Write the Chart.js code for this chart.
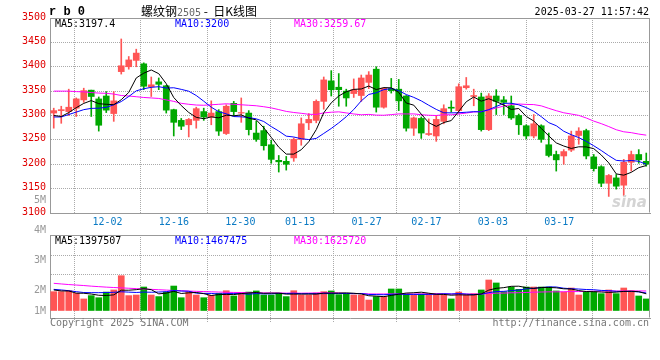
<!DOCTYPE html>
<html>
<head>
<meta charset="utf-8">
<script src="https://cdn.jsdelivr.net/npm/chart.js@4.4.1/dist/chart.umd.min.js"></script>
<style>
  body { margin: 0; background: #fff; }
  #wrap { position: relative; width: 660px; height: 360px; overflow: hidden; font-family: 'DejaVu Sans Mono', monospace; font-size: 10px; }
  canvas { position: absolute; left: 0; top: 0; }
  .t { position: absolute; white-space: pre; line-height: 12px; }
</style>
</head>
<body>
<div id="wrap">
  <canvas id="kChart" width="660" height="360"></canvas>
  <canvas id="volChart" width="660" height="360"></canvas>
  <div class="t" style="left:49px;top:5px;font:bold 12px 'Liberation Mono',monospace;">r b 0</div>
  <div class="t" style="left:141px;top:3px;font-size:12px;line-height:16px;font-family:'Noto Sans CJK SC';">螺纹钢<span style="font:10px 'DejaVu Sans Mono';color:#666;">2505</span> -  日K线图</div>
  <div class="t" style="right:11px;top:6px;">2025-03-27 11:57:42</div>
  <div class="t" id="ma5Txt" style="left:55px;top:18px;color:#000;"></div>
  <div class="t" id="ma10Txt" style="left:175px;top:18px;color:#0000ff;"></div>
  <div class="t" id="ma30Txt" style="left:294px;top:18px;color:#ff00ff;"></div>
  <div class="t" id="vma5Txt" style="left:55px;top:235px;color:#000;"></div>
  <div class="t" id="vma10Txt" style="left:175px;top:235px;color:#0000ff;"></div>
  <div class="t" id="vma30Txt" style="left:294px;top:235px;color:#ff00ff;"></div>
  <div class="t" style="left:612px;top:193px;font:italic bold 15px 'DejaVu Sans';color:#d4d4d4;">sina</div>
  <div class="t" style="left:50px;top:317px;color:#777;">Copyright 2025 SINA.COM</div>
  <div class="t" style="right:11px;top:317px;color:#777;">http://finance.sina.com.cn</div>
</div>
<script>
const RED = "#ff5555";
const GREEN = "#00a800";

//~==== data ====~//
const dates = [
  "11-27","11-28","11-29","12-02","12-03","12-04","12-05","12-06","12-09","12-10",
  "12-11","12-12","12-13","12-16","12-17","12-18","12-19","12-20","12-23","12-24",
  "12-25","12-26","12-27","12-30","12-31","01-02","01-03","01-06","01-07","01-08",
  "01-09","01-10","01-13","01-14","01-15","01-16","01-17","01-20","01-21","01-22",
  "01-23","01-24","01-27","02-05","02-06","02-07","02-10","02-11","02-12","02-13",
  "02-14","02-17","02-18","02-19","02-20","02-21","02-24","02-25","02-26","02-27",
  "02-28","03-03","03-04","03-05","03-06","03-07","03-10","03-11","03-12","03-13",
  "03-14","03-17","03-18","03-19","03-20","03-21","03-24","03-25","03-26","03-27"
];
const tickDates = ["12-02","12-16","12-30","01-13","01-27","02-17","03-03","03-17"];

const opens = [
  3305,3310,3308,3315,3332,3352,3334,3340,3304,3390,
  3400,3413,3406,3359,3369,3361,3312,3290,3281,3290,
  3308,3297,3308,3263,3325,3305,3305,3264,3269,3240,
  3208,3206,3213,3251,3285,3290,3329,3371,3358,3350,
  3345,3341,3368,3395,3317,3355,3354,3340,3274,3294,
  3261,3258,3288,3317,3310,3357,3339,3338,3271,3340,
  3332,3320,3300,3279,3258,3279,3240,3220,3217,3229,
  3259,3269,3215,3195,3161,3172,3157,3204,3220,3206
];
const highs = [
  3315,3319,3354,3336,3356,3352,3338,3349,3349,3457,
  3421,3436,3408,3379,3377,3362,3313,3294,3294,3317,
  3315,3330,3312,3322,3329,3336,3310,3288,3278,3249,
  3218,3216,3254,3295,3304,3332,3379,3392,3386,3354,
  3375,3383,3390,3400,3357,3376,3374,3341,3297,3297,
  3293,3300,3322,3330,3365,3378,3354,3346,3345,3353,
  3339,3340,3303,3281,3302,3281,3264,3227,3230,3268,
  3275,3272,3220,3197,3179,3179,3210,3227,3230,3223
];
const lows = [
  3274,3284,3300,3298,3327,3298,3268,3306,3288,3385,
  3395,3400,3353,3339,3353,3305,3258,3271,3256,3274,
  3290,3281,3259,3261,3300,3286,3260,3247,3229,3202,
  3184,3188,3206,3239,3271,3285,3313,3340,3319,3319,
  3337,3329,3355,3307,3315,3346,3310,3268,3259,3253,
  3259,3247,3283,3307,3305,3354,3320,3268,3269,3302,
  3302,3292,3261,3252,3254,3245,3215,3186,3200,3226,
  3241,3211,3186,3154,3134,3149,3135,3186,3202,3196
];
const closes = [
  3310,3312,3317,3334,3351,3339,3280,3311,3330,3402,
  3414,3428,3360,3363,3364,3311,3286,3278,3292,3314,
  3297,3305,3268,3319,3308,3306,3271,3251,3238,3210,
  3205,3200,3251,3283,3292,3329,3373,3353,3353,3336,
  3353,3377,3383,3317,3356,3351,3330,3274,3295,3264,
  3263,3292,3314,3315,3359,3361,3341,3271,3340,3329,
  3327,3295,3281,3258,3283,3251,3218,3209,3226,3258,
  3268,3217,3191,3161,3177,3155,3204,3220,3209,3200
];

const ma5 = [
  3300,3298,3306,3316,3324.8,3330.6,3324.2,3323.0,3322.2,3332.4,
  3347.4,3377.0,3386.8,3393.4,3385.8,3365.2,3336.8,3320.4,3306.2,3296.2,
  3293.4,3297.2,3295.2,3300.6,3299.4,3301.2,3294.4,3291.0,3274.8,3255.2,
  3235.0,3220.8,3220.8,3229.8,3246.2,3271.0,3305.6,3326.0,3340.0,3348.8,
  3353.6,3354.4,3360.4,3353.2,3357.2,3356.8,3347.4,3325.6,3321.2,3302.8,
  3285.2,3277.6,3285.6,3289.6,3308.6,3328.2,3338.0,3329.4,3334.4,3328.4,
  3321.6,3312.4,3314.4,3298.0,3288.8,3273.6,3258.2,3243.8,3237.4,3232.4,
  3235.8,3235.6,3232.0,3219.0,3202.8,3180.2,3177.6,3183.4,3193.0,3197.4
];
const ma10 = [
  3297,3297,3302,3307,3312,3314.6,3315,3316.7,3322,3328.6,
  3339.0,3350.6,3354.9,3357.8,3359.1,3356.3,3356.9,3353.6,3349.8,3341.0,
  3329.3,3317.0,3307.8,3303.4,3297.8,3297.3,3295.8,3293.1,3287.7,3277.3,
  3268.1,3257.6,3255.9,3252.3,3250.7,3253.0,3263.2,3273.4,3284.9,3297.5,
  3312.3,3330.0,3343.2,3346.6,3353.0,3355.2,3350.9,3343.0,3337.2,3330.0,
  3321.0,3312.5,3305.6,3305.4,3305.7,3306.7,3307.8,3307.5,3312.0,3318.5,
  3324.9,3325.2,3321.9,3316.2,3308.6,3297.6,3285.3,3279.1,3267.7,3260.6,
  3254.7,3246.9,3237.9,3228.2,3217.6,3208.0,3206.6,3207.7,3206.0,3200
];
const ma30 = [
  3350,3350,3350,3349,3348.5,3347,3346,3345.5,3344,3341,
  3340,3338.5,3337,3336,3335,3332,3329,3325,3323,3321.5,
  3321,3322,3323,3324,3323,3322,3321,3320,3318,3315.6,
  3312.1,3308.4,3306.2,3304.5,3302.5,3302.2,3305.3,3306.7,3307.5,3305.3,
  3303.2,3301.5,3302.3,3300.8,3300.5,3301.8,3303.3,3303.2,3303.3,3301.6,
  3300.5,3300.0,3301.6,3301.4,3303.1,3305.0,3307.3,3308.0,3311.4,3315.3,
  3319.4,3322.6,3323.6,3322.7,3322.4,3319.8,3314.7,3309.9,3305.6,3303.0,
  3300.2,3294.9,3288.5,3283.3,3277.3,3270.8,3266.6,3264.8,3261.9,3259.67
];

const volumes = [
  1570000,1570000,1650000,1440000,980000,1250000,1080000,1540000,1710000,2870000,
  1250000,1300000,1950000,1300000,1170000,1540000,2030000,1080000,1570000,1300000,
  1080000,1270000,1440000,1650000,1220000,1490000,1540000,1630000,1300000,1300000,
  1460000,1170000,1650000,1300000,1300000,1460000,1570000,1630000,1330000,1380000,
  1300000,1300000,890000,1170000,1170000,1790000,1790000,1380000,1300000,1380000,
  1380000,1380000,1300000,980000,1540000,1300000,1410000,1710000,2520000,2280000,
  1570000,1950000,1760000,1950000,1950000,1950000,1950000,1630000,1540000,1870000,
  1300000,1570000,1570000,1410000,1710000,1410000,1870000,1630000,1220000,980000
];
const vma5 = [
  1710000,1630000,1630000,1450000,1442000,1378000,1280000,1258000,1312000,1690000,
  1690000,1734000,1816000,1734000,1394000,1452000,1598000,1424000,1478000,1504000,
  1412000,1260000,1332000,1348000,1332000,1414000,1468000,1506000,1436000,1452000,
  1446000,1372000,1376000,1376000,1376000,1376000,1456000,1452000,1458000,1474000,
  1442000,1388000,1240000,1208000,1166000,1264000,1362000,1460000,1486000,1528000,
  1446000,1364000,1348000,1284000,1316000,1300000,1306000,1388000,1696000,1844000,
  1898000,2006000,2016000,1902000,1836000,1912000,1912000,1886000,1804000,1788000,
  1658000,1582000,1570000,1544000,1512000,1534000,1594000,1606000,1568000,1397507
];
const vma10 = [
  1760000,1710000,1650000,1570000,1500000,1490000,1490000,1500000,1520000,1566000,
  1534000,1507000,1537000,1523000,1542000,1571000,1666000,1620000,1606000,1449000,
  1432000,1429000,1378000,1413000,1418000,1413000,1364000,1419000,1392000,1392000,
  1430000,1420000,1441000,1406000,1414000,1411000,1414000,1414000,1417000,1425000,
  1409000,1422000,1346000,1333000,1320000,1353000,1375000,1350000,1347000,1347000,
  1355000,1363000,1404000,1385000,1422000,1373000,1335000,1368000,1490000,1580000,
  1599000,1656000,1702000,1799000,1840000,1905000,1959000,1951000,1853000,1812000,
  1785000,1747000,1728000,1674000,1650000,1596000,1588000,1588000,1556000,1467475
];
const vma30 = [
  2250000,2200000,2150000,2110000,2070000,2020000,1980000,1940000,1910000,1880000,
  1850000,1820000,1790000,1760000,1730000,1700000,1670000,1650000,1620000,1600000,
  1580000,1560000,1540000,1520000,1510000,1500000,1490000,1480000,1475000,1469000,
  1465000,1452000,1452000,1447000,1458000,1465000,1481000,1484000,1471000,1422000,
  1424000,1424000,1388000,1384000,1384000,1392000,1384000,1394000,1385000,1388000,
  1398000,1402000,1397000,1375000,1386000,1379000,1375000,1378000,1418000,1451000,
  1455000,1481000,1485000,1506000,1528000,1544000,1557000,1557000,1564000,1580000,
  1580000,1589000,1612000,1620000,1638000,1625000,1628000,1636000,1633000,1625720
];

// volume axis labels as Sina prints them (they do not follow the bar scale)
const volTickLabels = ["1M","2M","3M","4M","5M"];
const volTickValues = [0, 1710000, 4150000, 6530000, 8970000];
const volGridValues = [2930000, 4550000];

//!==== helpers ====!//
const n = dates.length;
const candleColors = dates.map((d, i) => closes[i] >= opens[i] ? RED : GREEN);
// Sina spaces its date grid over n-1 steps, a little wider than the bars
const tickPos = tickDates.map(d => dates.indexOf(d) * n / (n - 1) - 0.5);
const monoFont = { family: "'DejaVu Sans Mono', monospace", size: 10 };

document.getElementById("ma5Txt").textContent = "MA5:" + ma5[n - 1];
document.getElementById("ma10Txt").textContent = "MA10:" + ma10[n - 1];
document.getElementById("ma30Txt").textContent = "MA30:" + ma30[n - 1];
document.getElementById("vma5Txt").textContent = "MA5:" + vma5[n - 1];
document.getElementById("vma10Txt").textContent = "MA10:" + vma10[n - 1];
document.getElementById("vma30Txt").textContent = "MA30:" + vma30[n - 1];

const framePlugin = {
  id: "frame",
  afterDraw(chart) {
    const { ctx, chartArea: a } = chart;
    ctx.save();
    ctx.strokeStyle = "#999";
    ctx.lineWidth = 1;
    ctx.beginPath();
    ctx.moveTo(Math.round(a.left) + 0.5, Math.round(a.top) + 0.5);
    ctx.lineTo(Math.round(a.right) - 0.5, Math.round(a.top) + 0.5);
    ctx.lineTo(Math.round(a.right) - 0.5, Math.round(a.bottom) - 0.5);
    ctx.stroke();
    ctx.restore();
  }
};

function maLine(label, data, color) {
  return {
    type: "line", label: label, data: data, borderColor: color, borderWidth: 1,
    pointRadius: 0, tension: 0, order: 0
  };
}

function dateAxis(showLabels, height) {
  return {
    type: "linear", position: "bottom", min: -0.5, max: n - 0.5,
    afterBuildTicks: s => { s.ticks = tickPos.map(v => ({ value: v })); },
    afterFit: s => { s.height = height; },
    grid: { color: "#aaa", drawTicks: !showLabels, tickLength: 4, tickColor: "#aaa", tickBorderDash: [1, 1] },
    border: { color: "#999", dash: [1, 1] },
    ticks: {
      display: showLabels, color: "#0a7ac4", font: monoFont, padding: 3,
      maxRotation: 0, autoSkip: false, callback: (v, i) => tickDates[i]
    }
  };
}

//!==== price chart ====!//
new Chart(document.getElementById("kChart"), {
  type: "bar",
  data: {
    labels: dates,
    datasets: [
      maLine("MA5", ma5, "#000000"),
      maLine("MA10", ma10, "#0000ff"),
      maLine("MA30", ma30, "#ff00ff"),
      {
        label: "wick", data: dates.map((d, i) => [lows[i], highs[i]]),
        backgroundColor: candleColors, barThickness: 1, grouped: false, order: 2
      },
      {
        label: "body", data: dates.map((d, i) => [opens[i], closes[i]]),
        backgroundColor: candleColors, barThickness: 6, grouped: false, order: 1
      }
    ]
  },
  options: {
    responsive: false, animation: false,
    layout: { padding: { top: 18, right: 10, bottom: 125, left: 0 } },
    plugins: { legend: { display: false }, tooltip: { enabled: false } },
    scales: {
      x: { display: false, offset: true },
      xg: dateAxis(true, 22),
      y: {
        min: 3100, max: 3500,
        afterFit: s => { s.width = 50; },
        grid: { color: "#aaa", drawTicks: false },
        border: { color: "#999", dash: [1, 1] },
        ticks: {
          stepSize: 50, color: "#e00000", font: monoFont, padding: 4, labelOffset: -1,
          callback: v => String(v)
        }
      }
    }
  },
  plugins: [framePlugin]
});

//!==== volume chart ====!//
new Chart(document.getElementById("volChart"), {
  type: "bar",
  data: {
    labels: dates,
    datasets: [
      maLine("MA5", vma5, "#000000"),
      maLine("MA10", vma10, "#0000ff"),
      maLine("MA30", vma30, "#ff00ff"),
      { label: "vol", data: volumes, backgroundColor: candleColors, barThickness: 6, order: 1 }
    ]
  },
  options: {
    responsive: false, animation: false,
    layout: { padding: { top: 235, right: 10, bottom: 0, left: 0 } },
    plugins: { legend: { display: false }, tooltip: { enabled: false } },
    scales: {
      x: { display: false, offset: true },
      xg: dateAxis(false, 42),
      y: {
        min: -570000, max: 6180000,
        afterFit: s => { s.width = 50; },
        afterBuildTicks: s => {
          s.ticks = volGridValues.map(v => ({ value: v }))
            .concat(volTickValues.map(v => ({ value: v })));
        },
        grid: {
          drawTicks: false,
          color: c => c.index < volGridValues.length ? "#aaa" : "rgba(0,0,0,0)"
        },
        border: { color: "#999", dash: [1, 1] },
        ticks: {
          color: "#999", font: monoFont, padding: 4, autoSkip: false,
          callback: (v, i) => i < volGridValues.length ? "" : volTickLabels[i - volGridValues.length]
        }
      }
    }
  },
  plugins: [framePlugin]
});
</script>
</body>
</html>
